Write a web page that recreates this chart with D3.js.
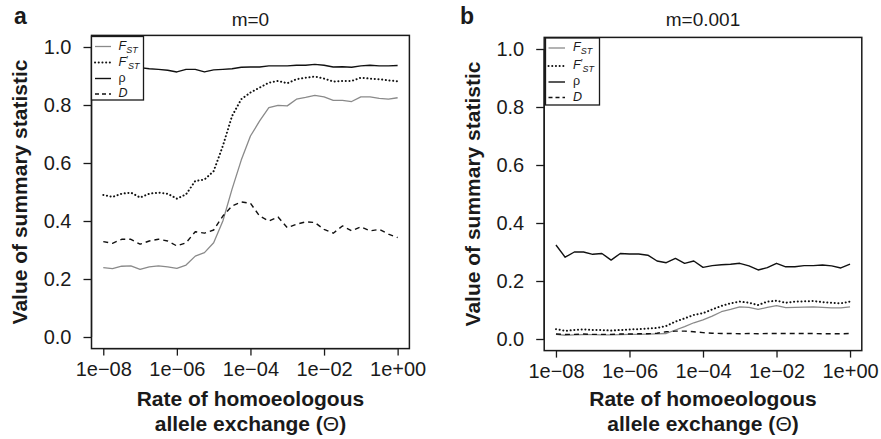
<!DOCTYPE html>
<html><head><meta charset="utf-8">
<script src="https://cdn.jsdelivr.net/npm/d3@7"></script>
<style>
html,body{margin:0;padding:0;background:#fff;}
svg{display:block;font-family:"Liberation Sans",Arial,Helvetica,sans-serif;}
</style></head>
<body><svg id="c" width="881" height="439"></svg>
<script>
// ---- data ----
const thetaExp = [-8,-7.75,-7.5,-7.25,-7,-6.75,-6.5,-6.25,-6,-5.75,-5.5,-5.25,-5,-4.75,-4.5,-4.25,-4,-3.75,-3.5,-3.25,-3,-2.75,-2.5,-2.25,-2,-1.75,-1.5,-1.25,-1,-0.75,-0.5,-0.25,0];
const xTicks = [1e-8, 1e-6, 1e-4, 1e-2, 1];
const xTickLabels = ["1e\u221208","1e\u221206","1e\u221204","1e\u221202","1e+00"];
const yTicks = [0, 0.2, 0.4, 0.6, 0.8, 1.0];
const yTickLabels = ["0.0","0.2","0.4","0.6","0.8","1.0"];
const panelTitles = ["m=0","m=0.001"];
const panelLetters = ["a","b"];

const fstA = [0.239,0.236,0.244,0.245,0.233,0.242,0.245,0.242,0.237,0.248,0.279,0.291,0.325,0.40,0.51,0.61,0.693,0.745,0.791,0.799,0.797,0.820,0.826,0.833,0.828,0.816,0.816,0.812,0.828,0.828,0.823,0.82,0.825];
const fstPrimeA = [0.49,0.483,0.494,0.498,0.481,0.494,0.498,0.494,0.477,0.492,0.538,0.543,0.572,0.659,0.762,0.820,0.843,0.860,0.877,0.883,0.875,0.889,0.894,0.898,0.891,0.881,0.883,0.883,0.894,0.891,0.889,0.885,0.882];
const rhoA = [0.93,0.93,0.928,0.929,0.929,0.925,0.923,0.920,0.914,0.923,0.923,0.914,0.921,0.923,0.925,0.930,0.931,0.931,0.935,0.935,0.935,0.937,0.937,0.940,0.937,0.931,0.932,0.930,0.935,0.937,0.935,0.935,0.936];
const dA = [0.329,0.323,0.337,0.337,0.320,0.331,0.337,0.331,0.314,0.325,0.363,0.358,0.369,0.417,0.452,0.466,0.461,0.417,0.400,0.414,0.377,0.389,0.397,0.395,0.371,0.358,0.383,0.366,0.380,0.366,0.371,0.355,0.343];

const fstB = [0.016,0.013,0.014,0.015,0.015,0.014,0.014,0.015,0.016,0.016,0.017,0.018,0.019,0.031,0.043,0.056,0.066,0.079,0.094,0.102,0.111,0.109,0.102,0.109,0.115,0.108,0.109,0.110,0.111,0.109,0.107,0.107,0.111];
const fstPrimeB = [0.034,0.028,0.031,0.033,0.031,0.031,0.029,0.031,0.033,0.034,0.036,0.038,0.045,0.060,0.071,0.083,0.089,0.102,0.114,0.123,0.129,0.125,0.117,0.129,0.132,0.125,0.129,0.130,0.131,0.127,0.125,0.123,0.129];
const rhoB = [0.324,0.282,0.300,0.300,0.292,0.295,0.272,0.295,0.293,0.293,0.289,0.269,0.263,0.278,0.261,0.269,0.247,0.253,0.256,0.258,0.261,0.252,0.238,0.246,0.261,0.249,0.249,0.253,0.253,0.255,0.252,0.245,0.258];
const dB = [0.017,0.016,0.016,0.017,0.016,0.016,0.016,0.017,0.017,0.018,0.018,0.020,0.025,0.027,0.027,0.025,0.022,0.020,0.019,0.019,0.018,0.019,0.018,0.019,0.019,0.019,0.019,0.019,0.019,0.018,0.018,0.018,0.019];

const seriesNames = ["FST","F'ST","rho","D"];

// ---- styles ----
const styles = {
  "FST":  {stroke:"#8a8a8a", width:1.3, dash:null},
  "F'ST": {stroke:"#111", width:2, dash:"0.1,3.6", cap:"round"},
  "rho":  {stroke:"#111", width:1.4, dash:null},
  "D":    {stroke:"#111", width:1.4, dash:"5,4"}
};
const ink = "#1a1a1a";

const panels = [
  {data:{"FST":fstA,"F'ST":fstPrimeA,"rho":rhoA,"D":dA}, left:91.5, right:409.4, top:35.4, bottom:348.6,
   legend:{x:91.5,y:36.5,w:52,h:63.5,lineX0:3.5,lineX1:19.5,textX:27,rows:[10,26,42,57.5]}, ylabX:27, letterX:14},
  {data:{"FST":fstB,"F'ST":fstPrimeB,"rho":rhoB,"D":dB}, left:544.2, right:861.8, top:37.4, bottom:350.6,
   legend:{x:545.5,y:38,w:54,h:67,lineX0:3,lineX1:19.5,textX:27.5,rows:[10,28,44,59.5]}, ylabX:479.5, letterX:460}
];

const svg = d3.select("#c");

panels.forEach((p, pi) => {
  const pad = 0.04;
  const x = d3.scaleLog().domain([1e-8, 1]);
  const xr0 = p.left, xr1 = p.right;
  const span = (xr1 - xr0) / (1 + 2*pad);
  x.range([xr0 + pad*span, xr1 - pad*span]);
  const yspan = (p.bottom - p.top) / (1 + 2*pad);
  const y = d3.scaleLinear().domain([0, 1]).range([p.bottom - pad*yspan, p.top + pad*yspan]);

  const g = svg.append("g");

  // lines
  const xs = thetaExp.map(e => Math.pow(10, e));
  const line = d3.line().x(d => x(d[0])).y(d => y(d[1]));
  seriesNames.forEach(name => {
    const st = styles[name];
    const pts = xs.map((xv, i) => [xv, p.data[name][i]]);
    const path = g.append("path").datum(pts).attr("d", line)
      .attr("fill","none").attr("stroke", st.stroke).attr("stroke-width", st.width)
      .attr("stroke-linejoin","round");
    if (st.dash) path.attr("stroke-dasharray", st.dash);
    if (st.cap) path.attr("stroke-linecap", st.cap);
  });

  // axes
  const xAxis = d3.axisBottom(x).tickValues(xTicks).tickFormat((d,i) => xTickLabels[i]).tickSize(7).tickPadding(5);
  const gx = g.append("g").attr("transform", `translate(0,${p.bottom})`).call(xAxis);
  gx.select(".domain").attr("d", `M${x(xTicks[0])},0H${x(xTicks[xTicks.length-1])}`);
  gx.selectAll("text").attr("font-size", 20).attr("fill", ink).attr("font-family","'Liberation Sans',Arial,sans-serif").attr("dy","0.75em");
  gx.selectAll("line,path").attr("stroke", ink).attr("stroke-width", 1.3);

  const yAxis = d3.axisLeft(y).tickValues(yTicks).tickFormat((d,i) => yTickLabels[i]).tickSize(8).tickPadding(12);
  const gy = g.append("g").attr("transform", `translate(${p.left},0)`).call(yAxis);
  gy.select(".domain").attr("d", `M0,${y(0)}V${y(1)}`);
  gy.selectAll("text").attr("font-size", 20).attr("fill", ink).attr("font-family","'Liberation Sans',Arial,sans-serif");
  gy.selectAll("line,path").attr("stroke", ink).attr("stroke-width", 1.3);

  // box
  g.append("rect").attr("x", p.left).attr("y", p.top).attr("width", p.right - p.left).attr("height", p.bottom - p.top)
    .attr("fill","none").attr("stroke", ink).attr("stroke-width", 1.5);

  // legend
  const L = p.legend;
  const lg = g.append("g").attr("transform", `translate(${L.x},${L.y})`);
  lg.append("rect").attr("width", L.w).attr("height", L.h).attr("fill","#fff").attr("stroke", ink).attr("stroke-width",1.3);
  seriesNames.forEach((name, i) => {
    const st = styles[name];
    const ly = L.rows[i];
    const ln = lg.append("line").attr("x1", L.lineX0).attr("x2", L.lineX1).attr("y1", ly).attr("y2", ly)
      .attr("stroke", st.stroke).attr("stroke-width", st.width);
    if (st.dash) ln.attr("stroke-dasharray", name === "D" ? "4,3" : st.dash);
    if (st.cap) ln.attr("stroke-linecap", st.cap);
    const t = lg.append("text").attr("x", L.textX).attr("y", ly + 3).attr("font-size", 12.5).attr("fill", ink);
    if (name === "FST") {
      t.append("tspan").attr("font-style","italic").text("F");
      t.append("tspan").attr("font-style","italic").attr("font-size",9).attr("dy",3).text("ST");
    } else if (name === "F'ST") {
      t.append("tspan").attr("font-style","italic").text("F");
      t.append("tspan").attr("font-size",10).attr("dy",-2).text("\u2032");
      t.append("tspan").attr("font-style","italic").attr("font-size",9).attr("dy",5).text("ST");
    } else if (name === "rho") {
      t.text("\u03C1");
    } else {
      t.append("tspan").attr("font-style","italic").text("D");
    }
  });

  // titles
  const cx = (p.left + p.right) / 2;
  g.append("text").attr("x", cx).attr("y", 26).attr("text-anchor","middle").attr("font-size", 19).attr("fill", ink).text(panelTitles[pi]);
  g.append("text").attr("x", p.letterX).attr("y", 24).attr("font-size", 23).attr("font-weight","bold").attr("fill", ink).text(panelLetters[pi]);

  // axis titles
  g.append("text").attr("x", cx).attr("y", 406).attr("text-anchor","middle").attr("font-size", 21).attr("font-weight","bold").attr("fill", ink)
    .text("Rate of homoeologous");
  const l2 = g.append("text").attr("x", cx).attr("y", 431).attr("text-anchor","middle").attr("font-size", 21).attr("font-weight","bold").attr("fill", ink);
  l2.append("tspan").text("allele exchange (");
  l2.append("tspan").attr("font-weight","normal").text("\u0398");
  l2.append("tspan").text(")");

  g.append("text").attr("transform", `translate(${p.ylabX},${(p.top+p.bottom)/2}) rotate(-90)`)
    .attr("text-anchor","middle").attr("font-size", 21).attr("font-weight","bold").attr("fill", ink)
    .text("Value of summary statistic");
});
</script></body></html>
